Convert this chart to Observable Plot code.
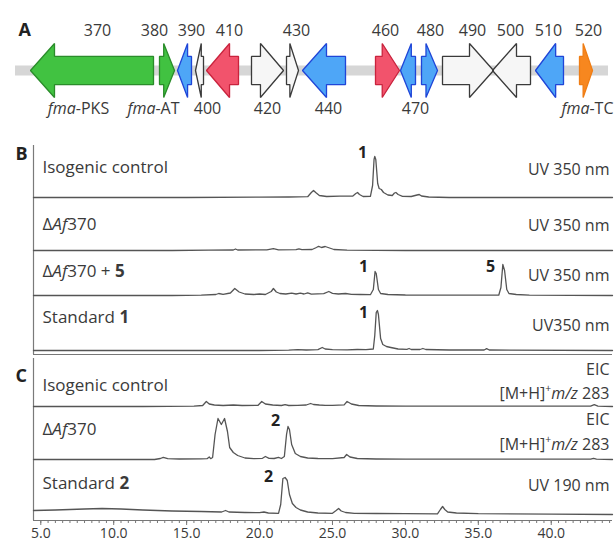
<!DOCTYPE html>
<html><head><meta charset="utf-8">
<script src="https://cdn.jsdelivr.net/npm/d3@7"></script>
<script src="https://cdn.jsdelivr.net/npm/@observablehq/plot@0.6"></script>
<style>
body{margin:0;background:#fff;}
#fig{position:relative;width:615px;height:541px;overflow:hidden;background:#fff;}
#fig svg{position:absolute;left:0;overflow:visible;}
</style></head><body><div id="fig"></div>
<script>
// ---------- DATA ----------
// Panel A: gene cluster (positions in kb)
const geneIds    = ["370","380","390","400","410","420","430","440","460","470","480","490","500","510","520"];
const geneStart  = [1.50, 7.95, 8.85, 9.75, 10.30, 12.55, 14.30, 15.10, 18.75, 20.00, 21.05, 22.10, 24.60, 26.75, 28.95];
const geneEnd    = [7.65, 8.70, 9.55, 10.15, 11.90, 14.15, 14.90, 17.25, 19.95, 20.75, 21.85, 24.65, 26.50, 28.15, 29.60];
const geneStrand = [-1, 1, -1, -1, -1, 1, 1, -1, 1, -1, 1, 1, -1, -1, 1];
const geneClass  = ["green","green","blue","white","red","white","white","blue","red","blue","blue","white","white","blue","orange"];
const backbone   = [0.75, 30.4];
const topLabels    = ["370","380","390","410","430","460","480","490","500","510","520"];
const topLabelGene = ["370","380","390","410","430","460","480","490","500","510","520"];
const bottomLabels    = ["fma-PKS","fma-AT","400","420","440","470","fma-TC"];
const bottomLabelGene = ["370","380","400","420","440","470","520"];

// Panels B, C: chromatograms [time (min), signal]
const isoB = [[4.5,0],[15,0],[20,0.3],[22,0.5],[23.3,0.8],[23.55,5],[23.7,7],[23.85,5],[24.1,2],[24.6,1],[25.5,1.3],[26.4,1.5],[26.6,4],[26.72,5],[26.85,3],[27.1,1],[27.6,1.2],[27.75,12],[27.85,38],[27.9,41],[27.97,38],[28.1,14],[28.2,9],[28.35,8],[28.5,5],[28.8,2.5],[29.1,2],[29.25,4.5],[29.35,5],[29.5,3],[29.8,1.2],[30.4,1],[30.8,2.5],[30.95,3],[31.1,1.5],[31.6,0.5],[33,0],[44.2,0]];
const delB = [[4.5,0],[14,0],[16.5,0.3],[18.2,0.5],[18.35,1.5],[18.5,0.5],[20.5,0.6],[20.95,1.8],[21.3,0.6],[22.5,0.8],[22.7,1.6],[22.9,0.8],[23.6,1],[23.9,3],[24.05,4.2],[24.25,3],[24.5,4],[24.7,3],[25.1,1],[26,0.3],[30,0],[44.2,0]];
const del5B = [[4.5,0],[14,0],[16,0.4],[17.0,1],[17.2,2],[17.5,1.2],[18.0,2.5],[18.3,7],[18.6,3.5],[19.0,1.5],[19.6,1],[20,1.5],[20.4,1],[20.8,4],[20.95,7],[21.15,3.5],[21.4,2],[21.8,1.5],[22.2,2.4],[22.5,1.5],[22.8,2.3],[23.05,1.5],[23.3,2.6],[23.55,1.4],[24.4,1.8],[24.75,4],[25.0,2.2],[25.4,1.5],[25.9,2],[26.3,1.2],[26.9,1],[27.6,0.8],[27.8,6],[27.92,24],[28.0,22],[28.15,6],[28.3,2],[28.8,1],[30,0.5],[36.4,0.3],[36.55,8],[36.68,31],[36.8,25],[36.95,6],[37.1,2],[37.6,1],[38.5,0.4],[44.2,0]];
const std1B = [[4.5,0],[20,0],[22,0.4],[22.6,0.8],[23.2,0.5],[24.0,0.8],[24.3,3],[24.5,1.5],[25,0.8],[26,0.7],[26.7,1],[27.3,0.8],[27.8,1.5],[27.9,15],[28.0,38],[28.08,40],[28.15,36],[28.3,12],[28.45,6],[28.7,4],[29,3],[29.5,1.5],[30.1,1.2],[30.25,2],[30.4,1],[31.0,1],[31.2,2],[31.4,1],[33,0.5],[35.4,0.5],[35.57,1.8],[35.75,0.5],[44.2,0]];
const isoC = [[4.5,0],[12,0],[15.5,0.3],[16.1,1],[16.35,5],[16.55,2.5],[16.9,1.5],[17.5,1],[18.2,1.5],[18.8,1],[19.9,1.2],[20.15,5],[20.4,2.5],[20.9,1.5],[21.5,1],[21.75,1.8],[22.0,1],[22.6,1.2],[23.2,1.5],[23.5,3],[23.7,2],[24.1,1.5],[24.5,1.2],[25.0,1.2],[25.8,1.6],[26.0,5],[26.3,2.5],[26.8,1],[28,0.5],[30,0.3],[42.7,0.3],[42.95,1.8],[43.2,0.3],[44.2,0]];
const delC = [[4.5,0],[12.8,0],[13.2,1],[13.4,2.2],[13.7,0.8],[14.5,0.5],[16.0,0.6],[16.4,0.8],[16.55,2.5],[16.65,0.8],[16.78,2],[16.95,25],[17.15,41],[17.38,35],[17.6,41],[17.8,28],[17.95,12],[18.2,7],[18.5,4],[19.0,1.5],[19.6,0.8],[20.2,1.2],[20.4,3],[20.65,1.2],[21.0,1],[21.3,2.2],[21.5,1],[21.7,3],[21.85,25],[21.95,33],[22.05,30],[22.2,15],[22.45,6],[22.8,3],[23.3,1.5],[24,1],[25,0.8],[25.8,2],[25.97,5],[26.2,2.5],[26.7,1],[28,0.5],[30,0.3],[42.7,0.3],[42.9,1.2],[43.1,0.3],[44.2,0]];
const std2C = [[4.5,4],[6,4.5],[8,5.5],[9.2,6],[10.5,5.5],[12,4.5],[14,3.5],[16,3],[17.4,2.5],[17.67,4],[17.9,2.5],[19,2],[20,1.8],[20.3,2.5],[20.6,1.5],[21.3,1.2],[21.45,10],[21.6,36],[21.75,37],[21.9,34],[22.05,20],[22.25,11],[22.5,7],[22.8,4.5],[23.3,2.5],[24,1.5],[25,1.2],[25.25,4],[25.42,6],[25.6,3.5],[25.9,2],[26.5,1.2],[28,1],[30,0.8],[32.2,0.6],[32.4,5],[32.55,8],[32.7,5],[32.9,2.5],[33.5,1.5],[35,0.8],[40,0.3],[44.2,0]];

const traceNames = ["Isogenic control","ΔAf370","ΔAf370 + 5","Standard 1","Isogenic control","ΔAf370","Standard 2"];
const detectors  = [["UV 350 nm"],["UV 350 nm"],["UV 350 nm"],["UV350 nm"],["EIC","[M+H]+m/z 283"],["EIC","[M+H]+m/z 283"],["UV 190 nm"]];
// peak annotations: [trace index, label, time, signal]
const peakLabels = [[0,"1",27.07,45],[2,"1",27.13,29],[2,"5",35.84,29],[3,"1",27.13,38],[5,"2",21.1,39],[6,"2",20.62,38]];
const xTicksMajor = [5,10,15,20,25,30,35,40];
const timeDomain = [4.5, 44.2];

// ---------- STYLE / LAYOUT ----------
const FONT = "'Open Sans', sans-serif";
const TXT = "#3a3a3a";
const colors = {
  green:  {fill:"#41c241", stroke:"#2a8c2a"},
  blue:   {fill:"#4ea6f7", stroke:"#1f45d8"},
  red:    {fill:"#f2536c", stroke:"#c9233d"},
  white:  {fill:"#f6f6f6", stroke:"#3a3a3a"},
  orange: {fill:"#f7871f", stroke:"#ef7d14"}
};
const labelNudge = {"370":5.5,"380":-12.5,"390":7,"410":7,"430":4,"460":-2,"480":1,"490":4.5,"500":-1,"510":-1,"520":2.5,
  "fma-PKS":-13.5,"fma-AT":-13.5,"400":8,"420":0,"440":4.5,"470":7.5,"fma-TC":1.5};
const traceLayout = [
  {top:145, base:197, frame:199, nameY:167, detY:[169], letter:"B", letterY:154},
  {top:199, base:250, frame:252, nameY:224, detY:[225]},
  {top:252, base:295, frame:297, nameY:271, detY:[275]},
  {top:297, base:350, frame:354, nameY:317, detY:[325], rule:true},
  {top:358, base:406, frame:408, nameY:385, detY:[369,393], letter:"C", letterY:376},
  {top:408, base:459, frame:461, nameY:429, detY:[419,444]},
  {top:461, base:514, frame:520, nameY:483, detY:[485], rule:true, axis:true}
];

const rich = {
  "ΔAf370": 'Δ<tspan font-style="italic">Af</tspan>370',
  "ΔAf370 + 5": 'Δ<tspan font-style="italic">Af</tspan>370 + <tspan font-weight="bold">5</tspan>',
  "Standard 1": 'Standard <tspan font-weight="bold">1</tspan>',
  "Standard 2": 'Standard <tspan font-weight="bold">2</tspan>',
  "[M+H]+m/z 283": '[M+H]<tspan baseline-shift="super" font-size="65%">+</tspan><tspan font-style="italic">m/z</tspan> 283',
  "fma-PKS": '<tspan font-style="italic">fma</tspan>-PKS',
  "fma-AT": '<tspan font-style="italic">fma</tspan>-AT',
  "fma-TC": '<tspan font-style="italic">fma</tspan>-TC'
};
function enrich(svg){
  svg.querySelectorAll("text").forEach(t => { const k = t.textContent; if (rich[k] && !t.querySelector("tspan")) t.innerHTML = rich[k]; });
  return svg;
}
const fig = document.getElementById("fig");
function place(svg, top){ svg.style.position="absolute"; svg.style.top = top+"px"; svg.style.left="0px"; fig.appendChild(enrich(svg)); }

// ---------- PANEL A ----------
const BODY = 0.52, HEAD = 1, PX = 20; // 20 px per kb
const genes = geneIds.map((id,i)=>({id, s:geneStart[i], e:geneEnd[i], strand:geneStrand[i], cls:geneClass[i]}));
const pts = [];
for (const g of genes) {
  const len = g.e - g.s, h = Math.min(len*0.72, 1.2);
  let p;
  if (g.strand > 0) p = [[g.s,BODY],[g.e-h,BODY],[g.e-h,HEAD],[g.e,0],[g.e-h,-HEAD],[g.e-h,-BODY],[g.s,-BODY]];
  else p = [[g.e,BODY],[g.s+h,BODY],[g.s+h,HEAD],[g.s,0],[g.s+h,-HEAD],[g.s+h,-BODY],[g.e,-BODY]];
  for (const [x,y] of p) pts.push({id:g.id, cls:g.cls, x, y});
}
const center = id => { const g = genes.find(g=>g.id===id); return (g.s+g.e)/2; };
const topL = topLabels.map((t,i)=>({t, x: center(topLabelGene[i]) + labelNudge[t]/PX}));
const botL = bottomLabels.map((t,i)=>({t, x: center(bottomLabelGene[i]) + labelNudge[t]/PX}));
const geneMarks = [];
geneMarks.push(Plot.ruleY([0], {x1: backbone[0], x2: backbone[1], stroke:"#d6d6d6", strokeWidth:10}));
for (const c of Object.keys(colors)) {
  geneMarks.push(Plot.line(pts.filter(d=>d.cls===c), {x:"x", y:"y", z:"id", curve:"linear-closed", fill:colors[c].fill, stroke:"none"}));
}
for (const c of Object.keys(colors)) {
  geneMarks.push(Plot.line(pts.filter(d=>d.cls===c), {x:"x", y:"y", z:"id", curve:"linear-closed", fill:"none", stroke:colors[c].stroke, strokeWidth:1.3, strokeLinejoin:"miter"}));
}
geneMarks.push(Plot.text(topL, {x:"x", y:1.48, text:"t", fontSize:16, fill:TXT}));
geneMarks.push(Plot.text(botL, {x:"x", y:-1.41, text:"t", fontSize:16, fill:TXT}));
geneMarks.push(Plot.text(["A"], {frameAnchor:"top-left", dx:18, dy:23, text:d=>d, fontSize:18, fontWeight:"bold", fill:"#222"}));
place(Plot.plot({
  width:615, height:125, margin:0,
  x:{domain:[0, 615/PX], axis:null},
  y:{domain:[-1,1], range:[97,43], axis:null},
  style:{fontFamily:FONT, background:"transparent", overflow:"visible"},
  marks: geneMarks
}), 0);

// ---------- PANELS B, C ----------
const traces = [isoB, delB, del5B, std1B, isoC, delC, std2C];
traces.forEach((data, i) => {
  const L = traceLayout[i];
  const H = L.frame - L.top;
  const mb = L.axis ? 21 : 0;
  const ymin = L.base - L.frame, ymax = L.base - L.top;
  const marks = [
    Plot.ruleX([timeDomain[0]], {stroke:"#7a7a7a", strokeWidth:1.2}),
    Plot.line(data, {x:d=>d[0], y:d=>d[1], stroke:"#555", strokeWidth:1.3, strokeLinejoin:"round"})
  ];
  if (L.rule) marks.push(Plot.ruleY([ymin], {stroke:"#777", strokeWidth:1.2}));
  marks.push(Plot.text([traceNames[i]], {frameAnchor:"top-left", dx:9, dy:L.nameY - L.top, text:d=>d, textAnchor:"start", lineAnchor:"middle", fontSize:17, fill:TXT}));
  detectors[i].forEach((d, j) => {
    marks.push(Plot.text([d], {frameAnchor:"top-right", dx:-3, dy:L.detY[j] - L.top, text:t=>t, textAnchor:"end", lineAnchor:"middle", fontSize:16, fill:TXT}));
  });
  const pk = peakLabels.filter(p => p[0] === i);
  if (pk.length) marks.push(Plot.text(pk, {x:d=>d[2], y:d=>d[3], text:d=>d[1], fontSize:16, fontWeight:"bold", fill:"#222", lineAnchor:"middle"}));
  if (L.letter) marks.push(Plot.text([L.letter], {frameAnchor:"top-left", dx:-18, dy:L.letterY - L.top, text:d=>d, fontSize:18, fontWeight:"bold", fill:"#222", lineAnchor:"middle"}));
  if (L.axis) {
    marks.push(Plot.axisX(d3.range(5, 44.01, 0.5), {tickSize:3, text:null, stroke:"#777"}));
    marks.push(Plot.axisX(xTicksMajor, {tickSize:5, tickPadding:3, stroke:"#777", fontSize:14, fill:TXT, tickFormat:d=>d.toFixed(1)}));
  }
  place(Plot.plot({
    width:615, height:H + mb, marginTop:0, marginBottom:mb, marginLeft:33, marginRight:3,
    x:{domain:timeDomain, axis: L.axis ? undefined : null},
    y:{domain:[ymin, ymax], axis:null},
    style:{fontFamily:FONT, background:"transparent", overflow:"visible"},
    marks
  }), L.top);
});
</script></body></html>
